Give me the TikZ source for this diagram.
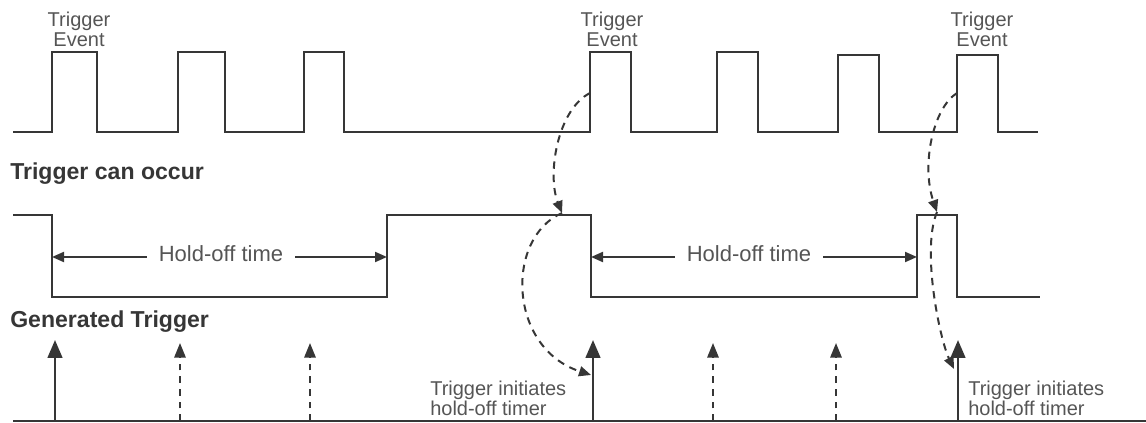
\documentclass[tikz,border=0pt]{standalone}
\usepackage{fontspec}
\setmainfont{Liberation Sans}
\usetikzlibrary{arrows.meta}
\definecolor{ink}{HTML}{363636}
\definecolor{txt}{HTML}{555555}
\begin{document}
\begin{tikzpicture}[x=0.75pt,y=-0.75pt,
  sig/.style={draw=ink,line width=1.75pt,line join=miter},
  lbl/.style={text=txt,font=\fontsize{15}{15}\selectfont,inner sep=0pt},
  head/.style={text=ink,font=\bfseries\fontsize{17.3}{19}\selectfont,inner sep=0pt,anchor=base west},
  hotext/.style={text=txt,font=\fontsize{16.5}{17}\selectfont,inner ysep=0pt,inner xsep=9pt,anchor=base},
  hold/.style={draw=ink,line width=1.5pt,-{Triangle[length=9pt 0,width=7.5pt 0]}},
  trig/.style={draw=ink,line width=1.9pt,-{Triangle[length=13.5pt 0,width=11pt 0]}},
  dtrig/.style={draw=ink,line width=1.6pt,dash pattern=on 5pt off 4.5pt,-{Triangle[length=11pt 0,width=8.5pt 0]}},
  curv/.style={draw=ink,line width=1.5pt,dash pattern=on 5.5pt off 4.5pt,-{Triangle[length=9pt 0,width=7.5pt 0]}}
]
\useasboundingbox (0,0) rectangle (1146,423);

% ---- top signal: trigger events
\draw[sig] (13,132) -- (52,132) -- (52,52) -- (97,52) -- (97,132) -- (178,132) -- (178,52) -- (225,52) -- (225,132)
  -- (304,132) -- (304,52) -- (344,52) -- (344,132) -- (590,132) -- (590,52) -- (631,52) -- (631,132)
  -- (717,132) -- (717,52) -- (758,52) -- (758,132) -- (838,132) -- (838,55) -- (879,55) -- (879,132)
  -- (957,132) -- (957,55) -- (998,55) -- (998,132) -- (1038,132);

\node[lbl,align=center,anchor=north] (te1) at (79,12) {Trigger\\Event};
\node[lbl,align=center,anchor=north] (te2) at (612,12) {Trigger\\Event};
\node[lbl,align=center,anchor=north] (te3) at (982,12) {Trigger\\Event};

\node[head] (hcan) at (10,180) {Trigger can occur};

% ---- middle signal: trigger can occur
\draw[sig] (13,215) -- (52,215) -- (52,297) -- (387,297) -- (387,215) -- (591,215) -- (591,297)
  -- (917,297) -- (917,215) -- (957,215) -- (957,297) -- (1040,297);

\coordinate (hoL1) at (52,257);
\coordinate (hoR1) at (387,257);
\coordinate (hoL2) at (591,257);
\coordinate (hoR2) at (917,257);
\node[hotext] (ho1) at (221,262) {Hold-off time};
\node[hotext] (ho2) at (749,262) {Hold-off time};
\draw[hold] (ho1.west |- hoL1) -- (hoL1);
\draw[hold] (ho1.east |- hoR1) -- (hoR1);
\draw[hold] (ho2.west |- hoL2) -- (hoL2);
\draw[hold] (ho2.east |- hoR2) -- (hoR2);

\node[head] (hgen) at (10,328) {Generated Trigger};

% ---- bottom: generated triggers
\draw[sig] (13,421) -- (1146,421);
\coordinate (s1b) at (55,421);  \coordinate (s1t) at (55,340);
\coordinate (s2b) at (593,421); \coordinate (s2t) at (593,340);
\coordinate (s3b) at (958,421); \coordinate (s3t) at (958,340);
\coordinate (d1b) at (180,421); \coordinate (d1t) at (180,343);
\coordinate (d2b) at (310,421); \coordinate (d2t) at (310,343);
\coordinate (d3b) at (713,421); \coordinate (d3t) at (713,343);
\coordinate (d4b) at (836,421); \coordinate (d4t) at (836,343);
\draw[trig] (s1b) -- (s1t);
\draw[trig] (s2b) -- (s2t);
\draw[trig] (s3b) -- (s3t);
\draw[dtrig] (d1b) -- (d1t);
\draw[dtrig] (d2b) -- (d2t);
\draw[dtrig] (d3b) -- (d3t);
\draw[dtrig] (d4b) -- (d4t);

\node[lbl,align=left,anchor=north west] (ti1) at (430,381) {Trigger initiates\\hold-off timer};
\node[lbl,align=left,anchor=north west] (ti2) at (968,381) {Trigger initiates\\hold-off timer};

% ---- dashed causal curves
\coordinate (e4) at (590,93);
\coordinate (c1) at (562,213);
\coordinate (g4) at (591,375);
\coordinate (e7) at (957,93);
\coordinate (c2) at (937,212);
\coordinate (g7) at (954,369);
\draw[curv] (e4) .. controls (557,110) and (547,175) .. (c1);
\draw[curv] (c1) .. controls (505,238) and (508,348) .. (g4);
\draw[curv] (e7) .. controls (933,108) and (921,165) .. (c2);
\draw[curv] (c2) .. controls (921,250) and (940,340) .. (g7);
\end{tikzpicture}
\end{document}
